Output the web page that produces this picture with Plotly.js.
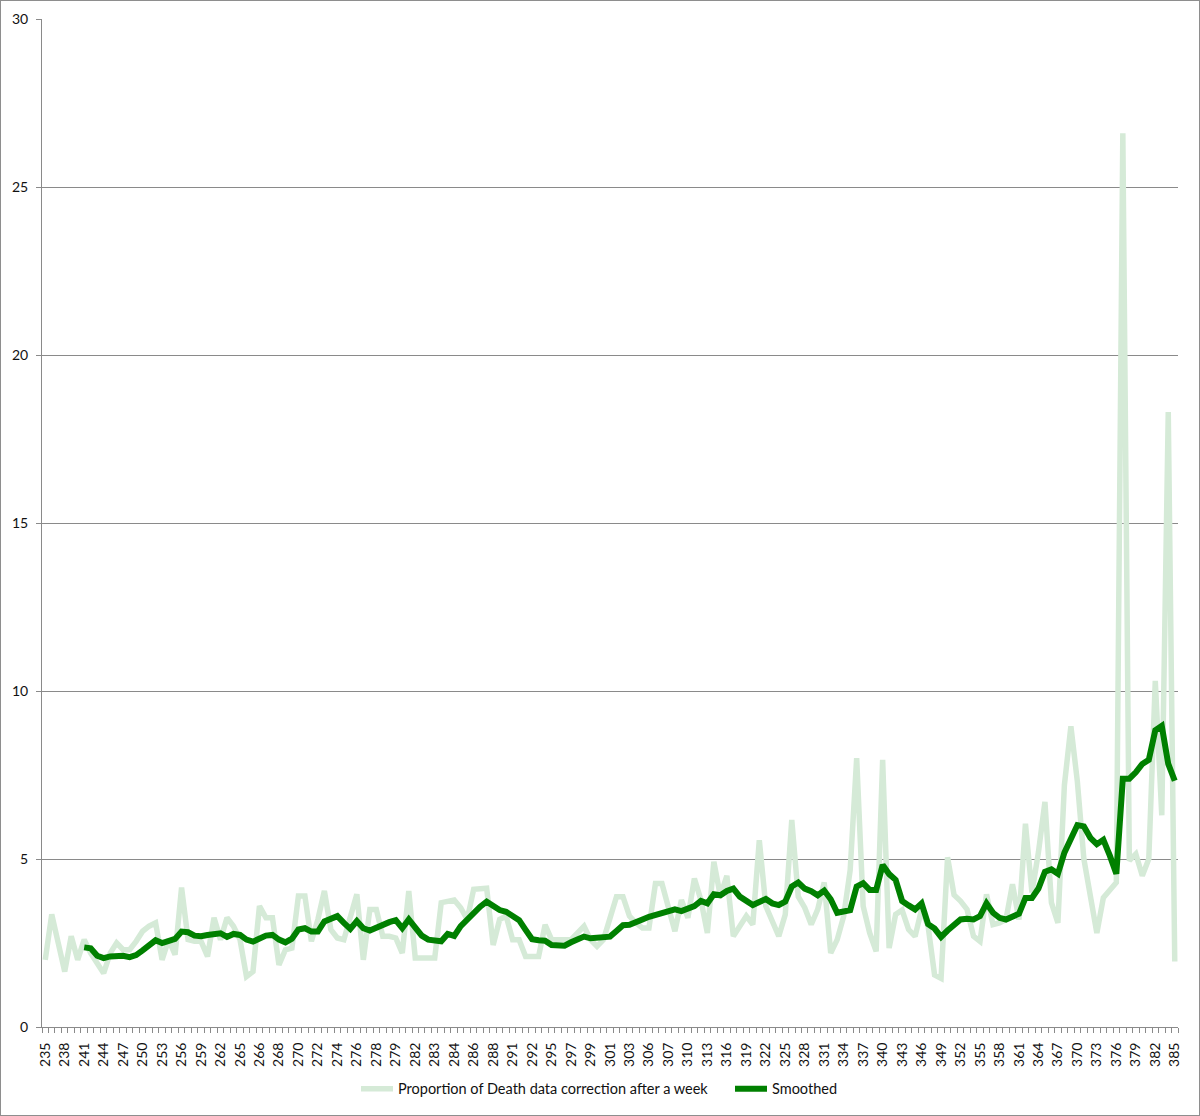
<!DOCTYPE html>
<html>
<head>
<meta charset="utf-8">
<script src="https://cdn.plot.ly/plotly-3.0.1.min.js"></script>
<style>
  html, body { margin: 0; padding: 0; background: #fff; }
  #frame { width: 1200px; height: 1116px; box-sizing: border-box; border: 1px solid #8e8e8e; }
  #chart { width: 1198px; height: 1114px; }
</style>
</head>
<body>
<div id="frame"><div id="chart"></div></div>
<script>
// Tick labels shown under every third category
const tickLabels = ["235","238","241","244","247","250","253","256","259","262","265","266","268","270","272",
  "274","276","278","279","282","283","284","286","288","291","292","295","297","299","301","303","306","307",
  "310","313","316","319","322","325","328","331","334","337","340","343","346","349","352","355","358","361",
  "364","367","370","373","376","379","382","385"];

// Proportion of Death data correction after a week (one value per category)
const proportion = [
  2.0, 3.35, 2.5, 1.65, 2.7, 2.0, 2.6, 2.2, 1.9, 1.6,
  2.2, 2.5, 2.3, 2.3, 2.55, 2.85, 3.0, 3.1, 2.0, 2.6,
  2.15, 4.15, 2.6, 2.55, 2.55, 2.1, 3.25, 2.6, 3.25, 3.0,
  2.6, 1.5, 1.65, 3.6, 3.25, 3.25, 1.85, 2.3, 2.35, 3.9,
  3.9, 2.55, 3.2, 4.05, 2.9, 2.65, 2.6, 3.3, 3.95, 2.0,
  3.5, 3.5, 2.7, 2.7, 2.65, 2.2, 4.05, 2.05, 2.05, 2.05,
  2.05, 3.7, 3.75, 3.78, 3.55, 3.2, 4.1, 4.1, 4.13, 2.44,
  3.2, 3.3, 2.6, 2.6, 2.1, 2.1, 2.1, 3.04, 2.6, 2.6,
  2.6, 2.6, 2.8, 3.0, 2.6, 2.4, 2.6, 3.3, 3.88, 3.88,
  3.3, 3.1, 2.95, 2.95, 4.27, 4.27, 3.6, 2.85, 3.78, 3.25,
  4.42, 3.78, 2.8, 4.92, 3.9, 4.5, 2.7, 3.0, 3.3, 3.05,
  5.56, 3.6, 3.1, 2.7, 3.35, 6.16, 3.88, 3.55, 3.05, 3.5,
  4.3, 2.2, 2.6, 3.3, 4.67, 8.0, 3.6, 2.8, 2.25, 7.95,
  2.35, 3.35, 3.48, 2.9, 2.7, 3.5, 3.0, 1.55, 1.45, 5.05,
  3.93, 3.75, 3.5, 2.7, 2.55, 3.95, 3.05, 3.1, 3.2, 4.25,
  3.2, 6.05, 4.0, 5.2, 6.7, 3.7, 3.1, 7.2, 8.95, 7.3,
  5.0, 3.9, 2.8, 3.85, 4.05, 4.3, 26.6, 4.95, 5.15, 4.5,
  5.0, 10.3, 6.3, 18.3, 1.95
];

// Smoothed series (starts at the 7th category)
const smoothed = [
  null, null, null, null, null, null, 2.37, 2.34, 2.12, 2.05,
  2.1, 2.11, 2.12, 2.08, 2.14, 2.28, 2.46, 2.58, 2.5, 2.58,
  2.62, 2.84, 2.82, 2.72, 2.7, 2.74, 2.77, 2.79, 2.68, 2.77,
  2.74, 2.6, 2.54, 2.64, 2.72, 2.74, 2.6, 2.52, 2.63, 2.9,
  2.94, 2.84, 2.84, 3.14, 3.23, 3.3, 3.1, 2.92, 3.15, 2.94,
  2.87, 2.97, 3.05, 3.12, 3.18, 2.94, 3.2, 2.94, 2.72, 2.6,
  2.57, 2.55, 2.77, 2.71, 3.0, 3.2, 3.38, 3.58, 3.73, 3.6,
  3.48, 3.43, 3.32, 3.18, 2.89, 2.61, 2.58, 2.57, 2.44, 2.43,
  2.42, 2.52, 2.62, 2.69, 2.64, 2.65, 2.66, 2.69, 2.86, 3.03,
  3.04, 3.14, 3.2, 3.28, 3.33, 3.38, 3.45, 3.5, 3.45, 3.53,
  3.6, 3.75, 3.68, 3.95, 3.92, 4.05, 4.12, 3.88, 3.75, 3.63,
  3.72, 3.81, 3.68, 3.63, 3.73, 4.18, 4.3, 4.12, 4.04, 3.92,
  4.06, 3.8, 3.4, 3.43, 3.48, 4.18, 4.28, 4.08, 4.08, 4.82,
  4.55, 4.38, 3.75, 3.62, 3.5, 3.68, 3.06, 2.93, 2.68, 2.87,
  3.05, 3.2, 3.22, 3.2, 3.3, 3.68, 3.4, 3.25, 3.2, 3.28,
  3.37, 3.84, 3.84, 4.12, 4.62, 4.69, 4.56, 5.19, 5.57, 6.01,
  5.97, 5.63, 5.44, 5.57, 5.1, 4.56, 7.39, 7.39, 7.58, 7.83,
  7.95, 8.83, 8.96, 7.83, 7.33
];

const xIndex = proportion.map((_, i) => i);
const tickPositions = tickLabels.map((_, k) => k * 3);

const FONT = "Lato, 'Open Sans', sans-serif";

const traces = [
  {
    x: xIndex, y: proportion, type: "scatter", mode: "lines",
    name: "Proportion of Death data correction after a week",
    line: { color: "rgb(213,234,215)", width: 5.5 },
    hoverinfo: "skip"
  },
  {
    x: xIndex, y: smoothed, type: "scatter", mode: "lines",
    name: "Smoothed",
    line: { color: "rgb(0,128,0)", width: 6 },
    connectgaps: false,
    hoverinfo: "skip"
  }
];

const layout = {
  width: 1198, height: 1114,
  margin: { l: 41, r: 21, t: 18, b: 88 },
  paper_bgcolor: "#ffffff",
  plot_bgcolor: "#ffffff",
  font: { family: FONT, size: 14, color: "#111" },
  showlegend: true,
  legend: {
    orientation: "h",
    xref: "container", x: 355 / 1198, xanchor: "left",
    yref: "container", y: 0.0235, yanchor: "middle",
    font: { family: FONT, size: 14.5, color: "#111" },
    itemwidth: 32, traceorder: "normal",
    entrywidth: 327, entrywidthmode: "pixels"
  },
  xaxis: {
    range: [-0.5, proportion.length - 0.5],
    tickmode: "array", tickvals: tickPositions, ticktext: tickLabels,
    tickangle: -90,
    ticks: "outside", ticklen: 6, tickcolor: "rgba(0,0,0,0)",
    ticklabelstandoff: 3,
    automargin: false,
    minor: { tick0: -0.5, dtick: 1, ticks: "outside", ticklen: 5, tickcolor: "#8a8a8a", showgrid: false },
    showline: true, linecolor: "#8a8a8a", linewidth: 1,
    showgrid: false, zeroline: false,
    tickfont: { family: FONT, size: 14, color: "#111" },
    fixedrange: true
  },
  yaxis: {
    range: [0, 30], dtick: 5, tick0: 0,
    ticks: "outside", ticklen: 5, tickcolor: "#8a8a8a",
    ticklabelstandoff: 5,
    automargin: false,
    showline: true, linecolor: "#8a8a8a", linewidth: 1,
    showgrid: true, gridcolor: "#8a8a8a", gridwidth: 1,
    zeroline: false,
    tickfont: { family: FONT, size: 14, color: "#111" },
    fixedrange: true
  }
};

Plotly.newPlot("chart", traces, layout, { displayModeBar: false, staticPlot: true });
</script>
</body>
</html>
